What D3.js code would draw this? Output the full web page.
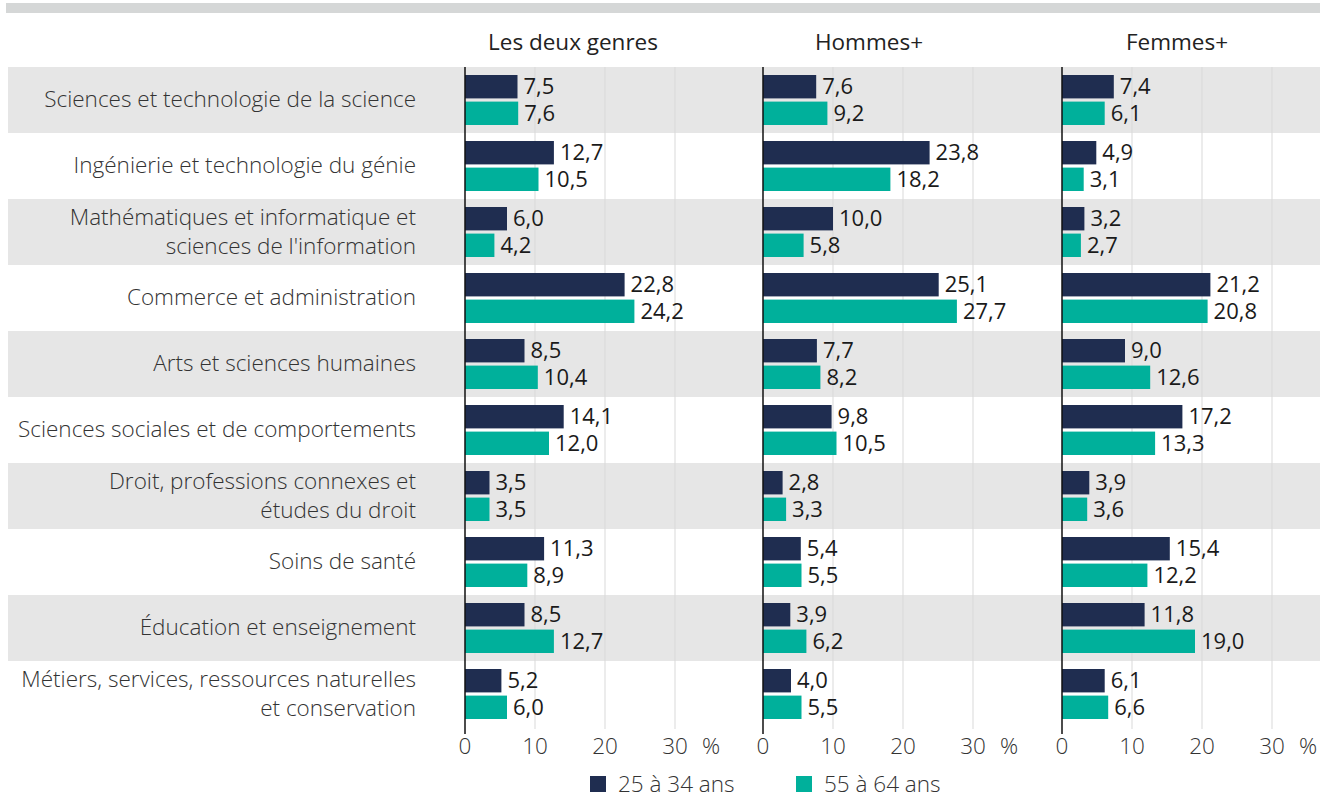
<!DOCTYPE html>
<html>
<head>
<meta charset="utf-8">
<script src="https://cdn.jsdelivr.net/npm/d3@7"></script>
<style>
  body { margin: 0; background: #fff; }
  svg { display: block; font-family: "Open Sans", "Noto Sans", sans-serif; }
</style>
</head>
<body>
<svg id="chart" width="1328" height="797"></svg>
<script>
const categories = [
    ['Sciences et technologie de la science'],
    ['Ingénierie et technologie du génie'],
    ['Mathématiques et informatique et', "sciences de l'information"],
    ['Commerce et administration'],
    ['Arts et sciences humaines'],
    ['Sciences sociales et de comportements'],
    ['Droit, professions connexes et', 'études du droit'],
    ['Soins de santé'],
    ['Éducation et enseignement'],
    ['Métiers, services, ressources naturelles', 'et conservation']
];
const panels = ['Les deux genres', 'Hommes+', 'Femmes+'];
const seriesNames = ['25 à 34 ans', '55 à 64 ans'];
const ticks = [0, 10, 20, 30];

// [panel][series][category]
const bothYoung = [7.5, 12.7, 6.0, 22.8, 8.5, 14.1, 3.5, 11.3, 8.5, 5.2];
const bothOld   = [7.6, 10.5, 4.2, 24.2, 10.4, 12.0, 3.5, 8.9, 12.7, 6.0];
const menYoung  = [7.6, 23.8, 10.0, 25.1, 7.7, 9.8, 2.8, 5.4, 3.9, 4.0];
const menOld    = [9.2, 18.2, 5.8, 27.7, 8.2, 10.5, 3.3, 5.5, 6.2, 5.5];
const womenYoung = [7.4, 4.9, 3.2, 21.2, 9.0, 17.2, 3.9, 15.4, 11.8, 6.1];
const womenOld   = [6.1, 3.1, 2.7, 20.8, 12.6, 13.3, 3.6, 12.2, 19.0, 6.6];
const panelData = [[bothYoung, bothOld], [menYoung, menOld], [womenYoung, womenOld]];

const colors = ['#1f2d50', '#00b09b'];
const fmt = v => d3.format('.1f')(v).replace('.', ',');
const fs = 22.5;

const svg = d3.select('#chart');
const plotTop = 67, rowH = 66;
const panelX = [465, 763, 1062];
const panelW = 210; // 0 to 30
const plotBottom = plotTop + rowH * categories.length;

const y = d3.scaleBand()
    .domain(d3.range(categories.length))
    .range([plotTop, plotBottom]);

// top band
svg.append('rect')
    .attr('x', 6).attr('y', 3).attr('width', 1314).attr('height', 10)
    .attr('fill', '#d5d7d7');

// row backgrounds
svg.selectAll('.row-bg')
    .data(d3.range(categories.length).filter(i => i % 2 === 0))
    .enter().append('rect')
    .attr('class', 'row-bg')
    .attr('x', 8).attr('width', 1312)
    .attr('y', i => y(i))
    .attr('height', y.bandwidth())
    .attr('fill', '#e6e6e6');

// category labels
const labels = svg.selectAll('.cat-label')
    .data(categories)
    .enter().append('text')
    .attr('class', 'cat-label')
    .attr('text-anchor', 'end')
    .attr('font-size', fs)
    .attr('font-weight', 300)
    .attr('fill', '#333');
labels.each(function(lines, i) {
    const cy = y(i) + y.bandwidth() / 2;
    const start = cy - (lines.length - 1) * 14.5;
    d3.select(this).selectAll('tspan')
        .data(lines)
        .enter().append('tspan')
        .attr('x', 416)
        .attr('y', (d, j) => start + j * 29)
        .attr('dy', '0.33em')
        .text(d => d);
});

panels.forEach((title, p) => {
    const x = d3.scaleLinear().domain([0, 30]).range([panelX[p], panelX[p] + panelW]);
    const g = svg.append('g');

    // gridlines
    g.selectAll('.grid')
        .data(ticks.slice(1))
        .enter().append('line')
        .attr('x1', d => x(d)).attr('x2', d => x(d))
        .attr('y1', plotTop).attr('y2', plotBottom + 2)
        .attr('stroke', '#d9d9d9').attr('stroke-width', 1);

    // header
    g.append('text')
        .attr('x', [573, 869, 1177][p])
        .attr('y', 50)
        .attr('text-anchor', 'middle')
        .attr('font-size', fs)
        .attr('fill', '#222')
        .text(title);

    const inner = d3.scaleBand().domain([0, 1]).range([8, rowH - 8]).paddingInner(0.12);

    panelData[p].forEach((vals, s) => {
        g.selectAll('.bar' + s)
            .data(vals)
            .enter().append('rect')
            .attr('x', x(0))
            .attr('y', (d, i) => y(i) + inner(s))
            .attr('width', d => x(d) - x(0))
            .attr('height', inner.bandwidth())
            .attr('fill', colors[s]);
        g.selectAll('.val' + s)
            .data(vals)
            .enter().append('text')
            .attr('x', d => x(d) + 6)
            .attr('y', (d, i) => y(i) + inner(s) + inner.bandwidth() / 2)
            .attr('dy', '0.34em')
            .attr('font-size', 22)
            .attr('fill', '#1a1a1a')
            .text(d => fmt(d));
    });

    // zero axis
    g.append('line')
        .attr('x1', x(0)).attr('x2', x(0))
        .attr('y1', plotTop).attr('y2', plotBottom + 7)
        .attr('stroke', '#111').attr('stroke-width', 1.5);

    // tick labels
    g.selectAll('.tick')
        .data(ticks)
        .enter().append('text')
        .attr('x', d => x(d))
        .attr('y', 754)
        .attr('text-anchor', 'middle')
        .attr('font-size', fs)
        .attr('font-weight', 300)
        .attr('fill', '#333')
        .text(d => d);
    g.append('text')
        .attr('x', x(30) + 36)
        .attr('y', 754)
        .attr('text-anchor', 'middle')
        .attr('font-size', fs)
        .attr('font-weight', 300)
        .attr('fill', '#333')
        .text('%');
});

// legend
const legendX = [590, 796];
seriesNames.forEach((name, s) => {
    svg.append('rect')
        .attr('x', legendX[s]).attr('y', 776)
        .attr('width', 16).attr('height', 16)
        .attr('fill', colors[s]);
    svg.append('text')
        .attr('x', legendX[s] + 28).attr('y', 784)
        .attr('dy', '0.35em')
        .attr('font-size', fs)
        .attr('font-weight', 300)
        .attr('fill', '#333')
        .text(name);
});
</script>
</body>
</html>
